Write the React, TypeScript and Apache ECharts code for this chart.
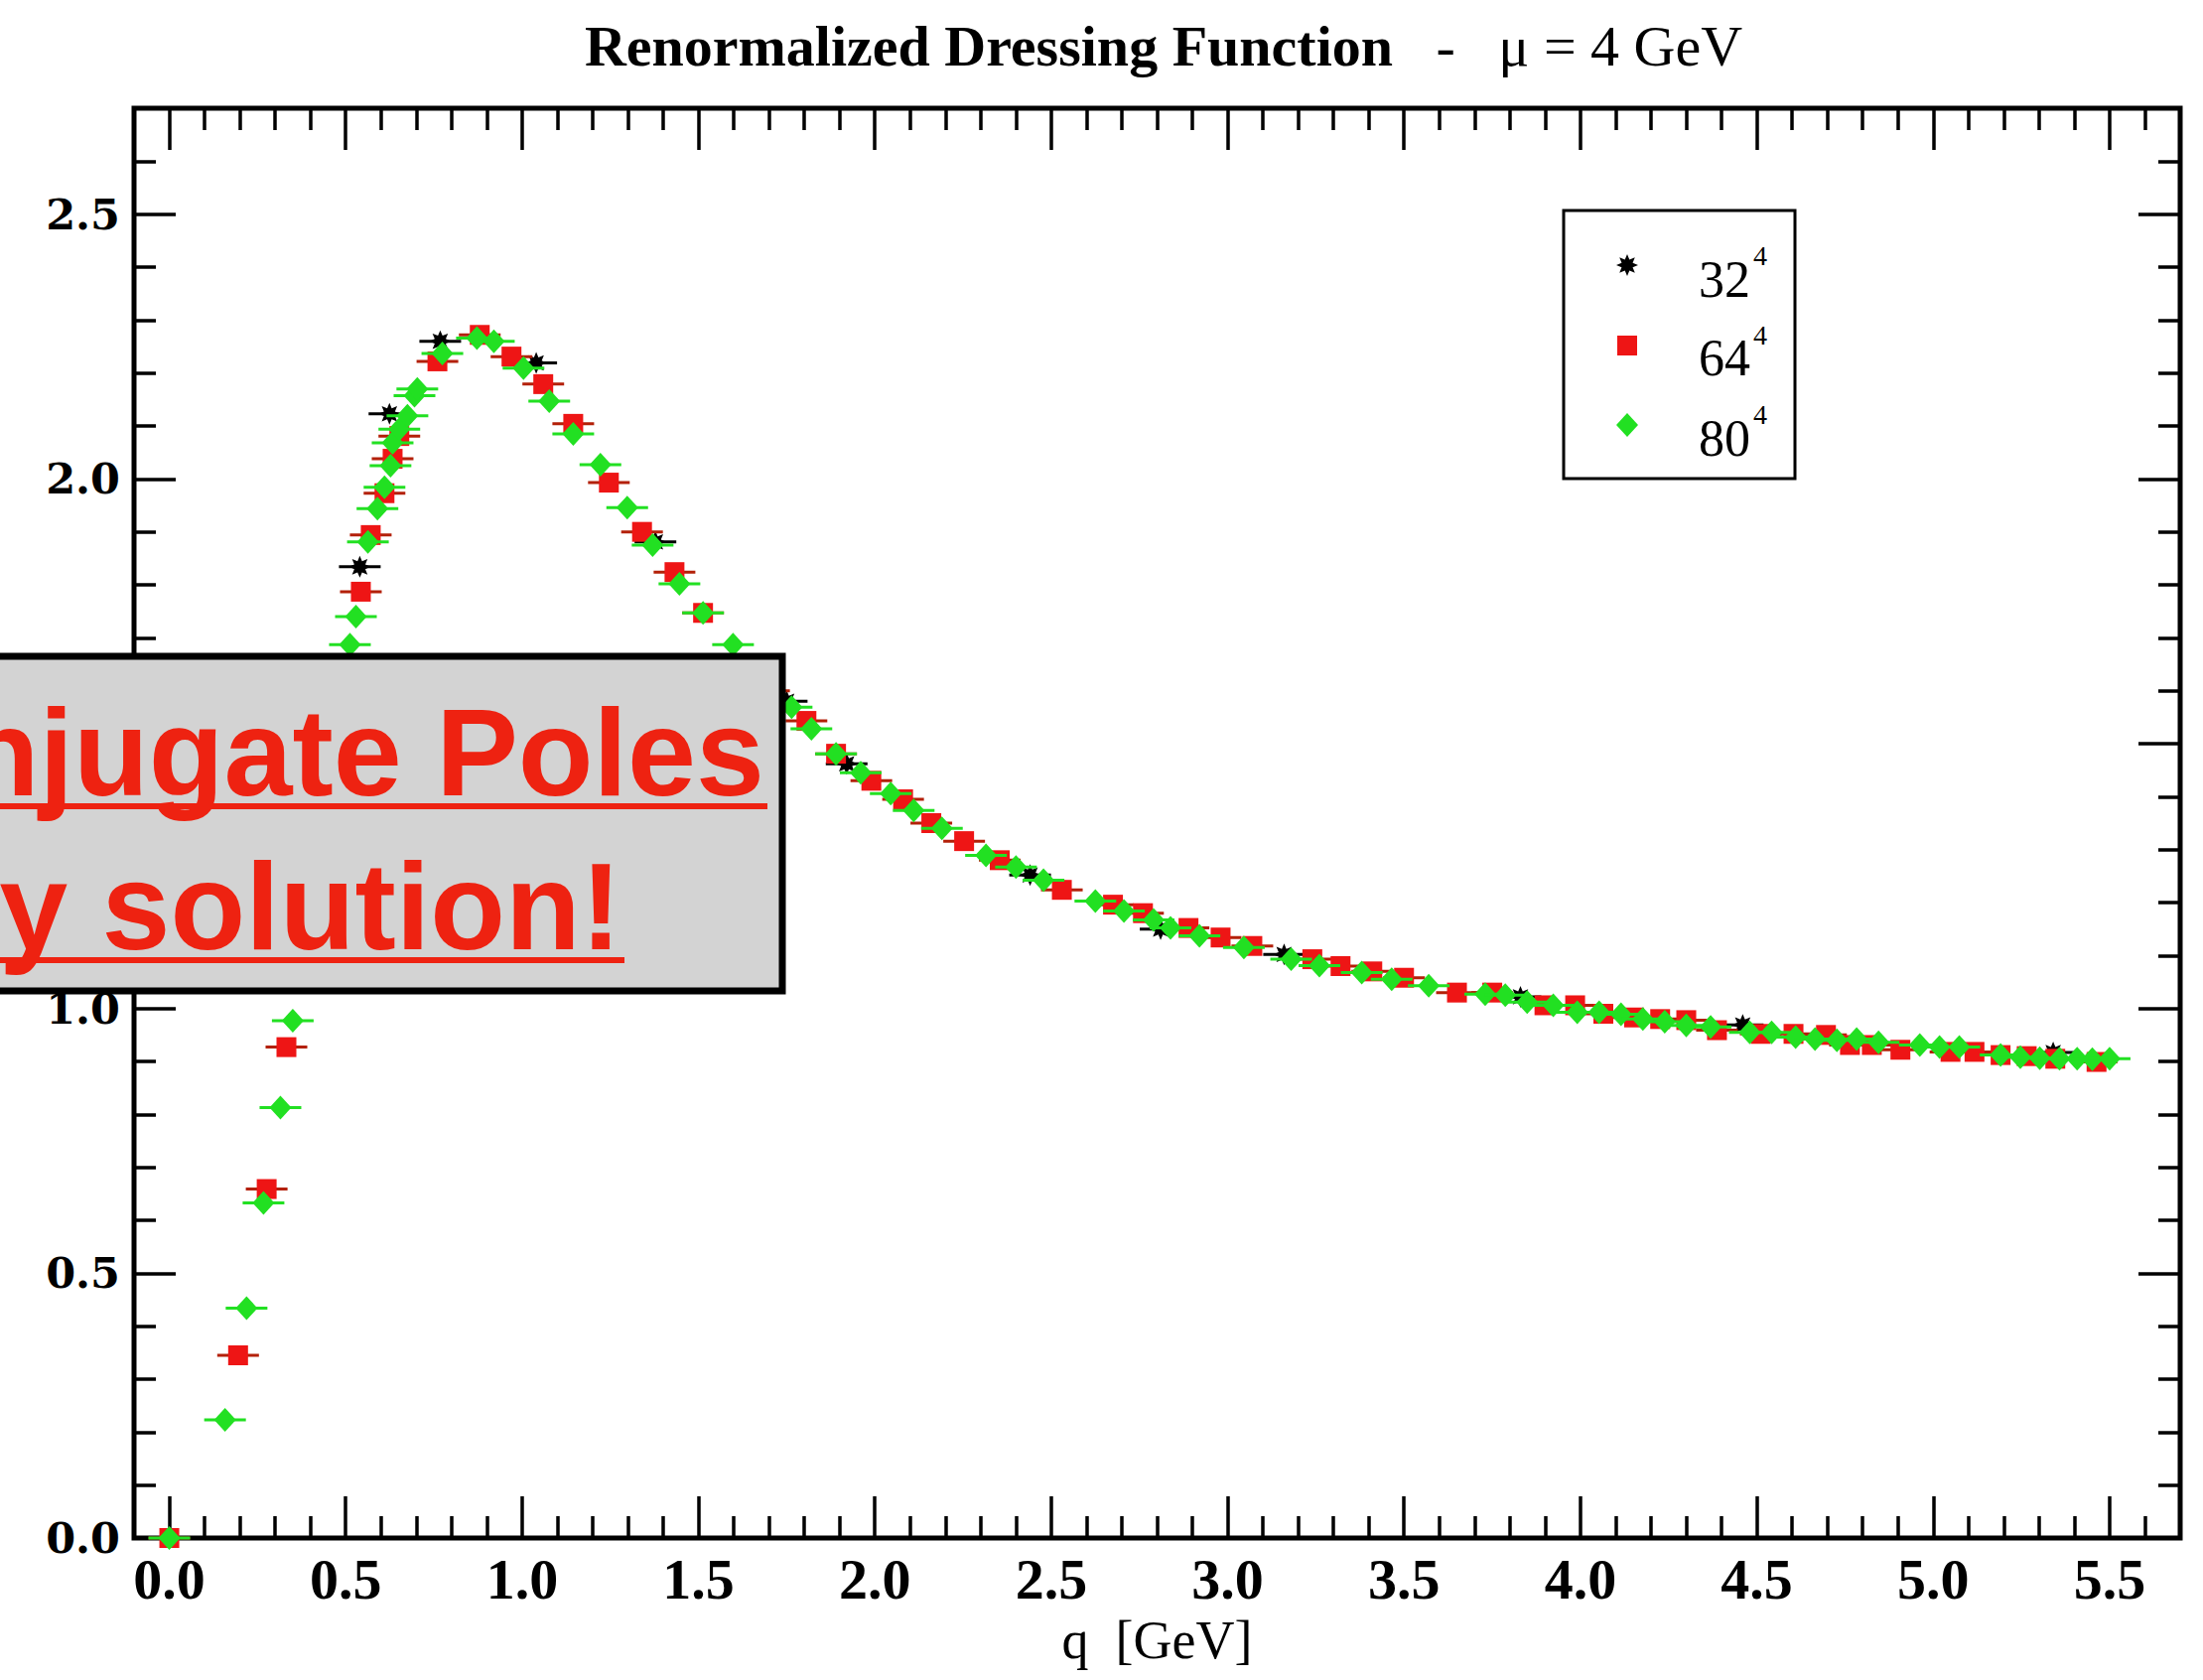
import React, { useEffect, useRef } from "react";
import * as echarts from "echarts";

// ---- data: 32^4 lattice (black stars) ----
const q32 = [0.0, 0.54, 0.624, 0.768, 1.04, 1.378, 1.75, 1.92, 2.44, 2.81, 3.16, 3.83, 4.46, 5.34];
const z32 = [0.0, 1.834, 2.123, 2.26, 2.219, 1.881, 1.58, 1.462, 1.252, 1.15, 1.102, 1.022, 0.969, 0.917];

// ---- data: 64^4 lattice (red squares) ----
const q64 = [0.0, 0.195, 0.276, 0.332, 0.37, 0.41, 0.45, 0.49, 0.543, 0.571, 0.61, 0.633, 0.652, 0.76, 0.88, 0.97, 1.06, 1.145, 1.246, 1.34, 1.432, 1.513, 1.62, 1.7, 1.806, 1.89, 1.99, 2.08, 2.16, 2.253, 2.354, 2.53, 2.675, 2.76, 2.889, 2.98, 3.07, 3.24, 3.32, 3.41, 3.5, 3.65, 3.75, 3.898, 3.985, 4.065, 4.152, 4.226, 4.3, 4.387, 4.511, 4.604, 4.696, 4.764, 4.826, 4.907, 5.049, 5.117, 5.191, 5.265, 5.346, 5.463];
const z64 = [0.0, 0.345, 0.659, 0.927, 1.08, 1.25, 1.42, 1.59, 1.787, 1.894, 1.973, 2.038, 2.081, 2.222, 2.272, 2.231, 2.179, 2.104, 1.993, 1.9, 1.824, 1.747, 1.65, 1.6, 1.543, 1.481, 1.43, 1.395, 1.35, 1.316, 1.28, 1.224, 1.196, 1.18, 1.152, 1.134, 1.118, 1.093, 1.08, 1.07, 1.058, 1.03, 1.03, 1.006, 1.006, 0.99, 0.983, 0.98, 0.978, 0.959, 0.952, 0.952, 0.95, 0.931, 0.931, 0.922, 0.918, 0.918, 0.912, 0.91, 0.905, 0.899];

// ---- data: 80^4 lattice (green diamonds) ----
const q80 = [0.0, 0.158, 0.219, 0.267, 0.315, 0.35, 0.39, 0.43, 0.47, 0.512, 0.529, 0.563, 0.59, 0.61, 0.627, 0.633, 0.652, 0.675, 0.695, 0.703, 0.774, 0.872, 0.92, 1.004, 1.077, 1.145, 1.222, 1.298, 1.37, 1.446, 1.513, 1.598, 1.68, 1.764, 1.82, 1.89, 1.96, 2.045, 2.11, 2.19, 2.315, 2.4, 2.478, 2.625, 2.706, 2.79, 2.838, 2.92, 3.046, 3.18, 3.26, 3.38, 3.465, 3.57, 3.73, 3.787, 3.849, 3.923, 3.991, 4.053, 4.115, 4.177, 4.239, 4.3, 4.369, 4.48, 4.542, 4.61, 4.665, 4.727, 4.783, 4.845, 4.962, 5.018, 5.074, 5.191, 5.247, 5.302, 5.358, 5.408, 5.451, 5.5];
const z80 = [0.0, 0.223, 0.434, 0.633, 0.813, 0.977, 1.15, 1.33, 1.5, 1.687, 1.74, 1.881, 1.944, 1.984, 2.025, 2.068, 2.094, 2.119, 2.157, 2.17, 2.237, 2.266, 2.26, 2.209, 2.147, 2.085, 2.027, 1.946, 1.875, 1.802, 1.747, 1.687, 1.625, 1.569, 1.528, 1.481, 1.445, 1.406, 1.374, 1.34, 1.289, 1.267, 1.242, 1.203, 1.184, 1.167, 1.152, 1.137, 1.115, 1.093, 1.081, 1.068, 1.055, 1.043, 1.027, 1.025, 1.012, 1.006, 0.993, 0.993, 0.989, 0.98, 0.975, 0.968, 0.965, 0.955, 0.955, 0.946, 0.942, 0.94, 0.942, 0.936, 0.931, 0.927, 0.927, 0.912, 0.908, 0.906, 0.905, 0.905, 0.904, 0.905];

// ---- ticks ----
const xMajorTicks = [0, 0.5, 1, 1.5, 2, 2.5, 3, 3.5, 4, 4.5, 5, 5.5];
const xMinorTicks = [0.1, 0.2, 0.3, 0.4, 0.6, 0.7, 0.8, 0.9, 1.1, 1.2, 1.3, 1.4, 1.6, 1.7, 1.8, 1.9, 2.1, 2.2, 2.3, 2.4, 2.6, 2.7, 2.8, 2.9, 3.1, 3.2, 3.3, 3.4, 3.6, 3.7, 3.8, 3.9, 4.1, 4.2, 4.3, 4.4, 4.6, 4.7, 4.8, 4.9, 5.1, 5.2, 5.3, 5.4, 5.6];
const yMajorTicks = [0, 0.5, 1, 1.5, 2, 2.5];
const yMinorTicks = [0.1, 0.2, 0.3, 0.4, 0.6, 0.7, 0.8, 0.9, 1.1, 1.2, 1.3, 1.4, 1.6, 1.7, 1.8, 1.9, 2.1, 2.2, 2.3, 2.4, 2.6];

const X_MIN = -0.1;
const X_MAX = 5.7;
const Y_MIN = 0;
const Y_MAX = 2.7;

const BLACK = "#000000";
const RED = "#ee1515";
const RED_BAR = "#b32008";
const GREEN = "#22e022";

function starPoints(cx: number, cy: number, R: number, r: number) {
  const pts: number[][] = [];
  const n = 8;
  for (let i = 0; i < 2 * n; i++) {
    const a = -Math.PI / 2 + (i * Math.PI) / n;
    const rad = i % 2 === 0 ? R : r;
    pts.push([cx + rad * Math.cos(a), cy + rad * Math.sin(a)]);
  }
  return pts;
}

function markerShape(kind: string, x: number, y: number, color: string, z?: number) {
  if (kind === "star") {
    return { type: "polygon", z, shape: { points: starPoints(x, y, 11, 6) }, style: { fill: color } };
  }
  if (kind === "square") {
    return { type: "rect", z, shape: { x: x - 10, y: y - 10, width: 20, height: 20 }, style: { fill: color } };
  }
  return {
    type: "polygon",
    z,
    shape: { points: [[x, y - 12], [x + 11, y], [x, y + 12], [x - 11, y]] },
    style: { fill: color },
  };
}

function makeSeries(name: string, qs: number[], zs: number[], kind: string, color: string, barColor: string) {
  return {
    type: "custom",
    name,
    xAxisIndex: 0,
    yAxisIndex: 0,
    clip: false,
    data: qs.map((q, i) => [q, zs[i]]),
    renderItem: (params: any, api: any) => {
      const p = api.coord([api.value(0), api.value(1)]);
      const x = p[0];
      const y = p[1];
      return {
        type: "group",
        children: [
          { type: "line", shape: { x1: x - 21, y1: y, x2: x + 21, y2: y }, style: { stroke: barColor, lineWidth: 3 } },
          markerShape(kind, x, y, color),
        ],
      };
    },
  };
}

function xAxisDef(position: string, ticks: number[], len: number, labels: boolean, name?: string) {
  return {
    type: "value",
    position,
    min: X_MIN,
    max: X_MAX,
    name: name || "",
    nameLocation: "middle",
    nameGap: 76,
    nameTextStyle: { fontFamily: "Liberation Serif", fontSize: 54, color: "#000" },
    axisLine: { show: false, onZero: false },
    splitLine: { show: false },
    axisTick: { show: true, inside: true, length: len, customValues: ticks, lineStyle: { color: "#000", width: 3.5 } },
    axisLabel: labels
      ? {
          show: true,
          customValues: ticks,
          margin: 12,
          formatter: (v: number) => v.toFixed(1),
          fontFamily: "Liberation Serif",
          fontWeight: "bold",
          fontSize: 58,
          color: "#000",
        }
      : { show: false },
  };
}

function yAxisDef(position: string, ticks: number[], len: number, labels: boolean) {
  return {
    type: "value",
    position,
    min: Y_MIN,
    max: Y_MAX,
    axisLine: { show: false, onZero: false },
    splitLine: { show: false },
    axisTick: { show: true, inside: true, length: len, customValues: ticks, lineStyle: { color: "#000", width: 3.5 } },
    axisLabel: labels
      ? {
          show: true,
          customValues: ticks,
          margin: 14,
          formatter: (v: number) => v.toFixed(1),
          fontFamily: "DejaVu Serif",
          fontWeight: "bold",
          fontSize: 43,
          color: "#000",
        }
      : { show: false },
  };
}

const LEGEND_ROWS = [
  { label: "32", kind: "star", color: BLACK, symY: 267, textY: 281, supY: 257 },
  { label: "64", kind: "square", color: RED, symY: 348, textY: 360, supY: 337 },
  { label: "80", kind: "diamond", color: GREEN, symY: 428, textY: 441, supY: 417 },
];

export default function App() {
  const ref = useRef<HTMLDivElement>(null);

  useEffect(() => {
    if (!ref.current) return;
    const chart = echarts.init(ref.current, undefined, { renderer: "svg" });

    const legendEls: any[] = [
      {
        type: "rect",
        z: 100,
        shape: { x: 1575, y: 212, width: 233, height: 270 },
        style: { fill: "#fff", stroke: "#000", lineWidth: 3 },
      },
    ];
    LEGEND_ROWS.forEach((r) => {
      legendEls.push(markerShape(r.kind, 1639, r.symY, r.color, 101));
      legendEls.push({
        type: "text",
        z: 101,
        x: 1711,
        y: r.textY,
        style: { text: r.label, fontFamily: "Liberation Serif", fontSize: 52, fill: "#000", align: "left", verticalAlign: "middle" },
      });
      legendEls.push({
        type: "text",
        z: 101,
        x: 1766,
        y: r.supY,
        style: { text: "4", fontFamily: "Liberation Serif", fontSize: 28, fill: "#000", align: "left", verticalAlign: "middle" },
      });
    });

    const overlayEls: any[] = [
      {
        type: "rect",
        z: 110,
        shape: { x: -20, y: 661, width: 808, height: 337 },
        style: { fill: "#d3d3d3", stroke: "#000", lineWidth: 7 },
      },
      {
        type: "text",
        z: 111,
        x: 770,
        y: 758,
        style: {
          text: "njugate Poles",
          fontFamily: "Liberation Sans",
          fontWeight: "bold",
          fontSize: 124,
          fill: "#ee2211",
          align: "right",
          verticalAlign: "middle",
        },
      },
      { type: "line", z: 111, shape: { x1: -10, y1: 812, x2: 773, y2: 812 }, style: { stroke: "#ee2211", lineWidth: 6 } },
      {
        type: "text",
        z: 111,
        x: 626,
        y: 913,
        style: {
          text: "y solution!",
          fontFamily: "Liberation Sans",
          fontWeight: "bold",
          fontSize: 124,
          fill: "#ee2211",
          align: "right",
          verticalAlign: "middle",
        },
      },
      { type: "line", z: 111, shape: { x1: -10, y1: 967, x2: 629, y2: 967 }, style: { stroke: "#ee2211", lineWidth: 6 } },
    ];

    chart.setOption({
      animation: false,
      backgroundColor: "#ffffff",
      title: {
        text: "{b|Renormalized Dressing Function}{r|   -   μ = 4 GeV}",
        left: 1167,
        top: 12,
        textAlign: "center",
        textStyle: {
          fontWeight: "normal",
          rich: {
            b: { fontFamily: "Liberation Serif", fontWeight: "bold", fontSize: 58, color: "#000" },
            r: { fontFamily: "Liberation Serif", fontWeight: "normal", fontSize: 58, color: "#000" },
          },
        },
      },
      grid: {
        left: 135,
        top: 109,
        width: 2061,
        height: 1440,
        show: true,
        borderColor: "#000",
        borderWidth: 5,
        backgroundColor: "transparent",
        containLabel: false,
      },
      xAxis: [
        xAxisDef("bottom", xMajorTicks, 42, true, "q  [GeV]"),
        xAxisDef("bottom", xMinorTicks, 22, false),
        xAxisDef("top", xMajorTicks, 42, false),
        xAxisDef("top", xMinorTicks, 22, false),
      ],
      yAxis: [
        yAxisDef("left", yMajorTicks, 42, true),
        yAxisDef("left", yMinorTicks, 22, false),
        yAxisDef("right", yMajorTicks, 42, false),
        yAxisDef("right", yMinorTicks, 22, false),
      ],
      series: [
        makeSeries("32^4", q32, z32, "star", BLACK, BLACK),
        makeSeries("64^4", q64, z64, "square", RED, RED_BAR),
        makeSeries("80^4", q80, z80, "diamond", GREEN, GREEN),
      ],
      graphic: { elements: [...legendEls, ...overlayEls] },
    });

    return () => chart.dispose();
  }, []);

  return (
    <div
      ref={ref}
      style={{ position: "fixed", left: 0, top: 0, width: 2219, height: 1692, background: "#fff" }}
    />
  );
}
